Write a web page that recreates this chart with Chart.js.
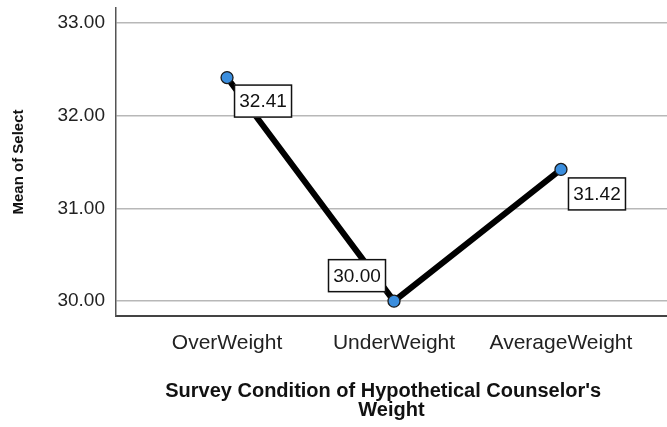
<!DOCTYPE html>
<html>
<head>
<meta charset="utf-8">
<script src="https://cdn.jsdelivr.net/npm/chart.js@4"></script>
<style>
  html, body { margin: 0; padding: 0; background: #fff; }
  #wrap { width: 667px; height: 427px; }
</style>
</head>
<body>
<div id="wrap"><canvas id="chart" width="667" height="427"></canvas></div>
<script>
// chart data
const categories = ['OverWeight', 'UnderWeight', 'AverageWeight'];
const meanSelect = [32.41, 30.00, 31.42];
const yTicks = [30, 31, 32, 33];

const FONT = '"Liberation Sans", Arial, sans-serif';

// label box placement relative to the point (dx, dy, anchor corner)
const labelPlacement = [
    { dx: 7, dy: 7, corner: 'topleft' },
    { dx: -8, dy: -9, corner: 'bottomright' },
    { dx: 7, dy: 8, corner: 'topleft' }
];

// Draws the boxed value labels next to each point
const boxLabels = {
    id: 'boxLabels',
    afterDatasetsDraw(chart) {
        const ctx = chart.ctx;
        const meta = chart.getDatasetMeta(0);
        ctx.save();
        ctx.font = '19px ' + FONT;
        ctx.textBaseline = 'middle';
        ctx.textAlign = 'center';
        meta.data.forEach((pt, i) => {
            const text = meanSelect[i].toFixed(2);
            const w = 58, h = 33;
            const p = labelPlacement[i];
            let x = pt.x + p.dx, y = pt.y + p.dy;
            if (p.corner === 'bottomright') { x -= w; y -= h; }
            ctx.fillStyle = '#fff';
            ctx.fillRect(x, y, w, h);
            ctx.strokeStyle = '#111';
            ctx.lineWidth = 1.5;
            ctx.strokeRect(x + 0.5, y + 0.5, w - 1, h - 1);
            ctx.fillStyle = '#111';
            ctx.fillText(text, x + w / 2, y + h / 2 + 1);
        });
        ctx.restore();
    }
};

const ctx = document.getElementById('chart').getContext('2d');
new Chart(ctx, {
    type: 'line',
    data: {
        datasets: [{
            data: meanSelect.map((v, i) => ({ x: i, y: v })),
            borderColor: '#000',
            borderWidth: 6,
            pointRadius: 6,
            pointBackgroundColor: '#3b8ede',
            pointBorderColor: '#1a1a1a',
            pointBorderWidth: 1.3,
            tension: 0,
            clip: false
        }]
    },
    options: {
        responsive: false,
        animation: false,
        layout: { autoPadding: false, padding: { top: 8, right: 0, bottom: 0, left: 0 } },
        plugins: {
            legend: { display: false },
            tooltip: { enabled: false }
        },
        scales: {
            x: {
                type: 'linear',
                min: -0.665,
                max: 2.635,
                afterBuildTicks: (s) => { s.ticks = categories.map((c, i) => ({ value: i })); },
                afterFit: (s) => { s.height = 111; s.paddingLeft = 0; s.paddingRight = 0; },
                grid: { display: false, drawTicks: false },
                border: { display: true, color: '#444', width: 2 },
                ticks: {
                    padding: 15,
                    maxRotation: 0,
                    color: '#222',
                    font: { family: FONT, size: 21 },
                    callback: (v) => categories[v]
                },
                title: {
                    display: true,
                    text: ["Survey Condition of Hypothetical Counselor's   ", 'Weight'],
                    color: '#111',
                    font: { family: FONT, size: 20, weight: 'bold', lineHeight: 0.95 },
                    padding: { top: 0, bottom: 7 }
                }
            },
            y: {
                min: 29.84,
                max: 33.16,
                afterBuildTicks: (s) => { s.ticks = yTicks.map(v => ({ value: v })); },
                afterFit: (s) => { s.width = 116; s.paddingTop = 0; s.paddingBottom = 0; },
                grid: { color: '#b8b8b8', lineWidth: 1.5, drawTicks: false },
                border: { display: true, color: '#555', width: 1.5 },
                ticks: {
                    padding: 11,
                    color: '#222',
                    font: { family: FONT, size: 19 },
                    callback: (v) => v.toFixed(2)
                },
                title: {
                    display: true,
                    text: 'Mean of Select',
                    color: '#111',
                    font: { family: FONT, size: 15, weight: 'bold' },
                    padding: { top: 10, bottom: 0 }
                }
            }
        }
    },
    plugins: [boxLabels]
});
</script>
</body>
</html>
